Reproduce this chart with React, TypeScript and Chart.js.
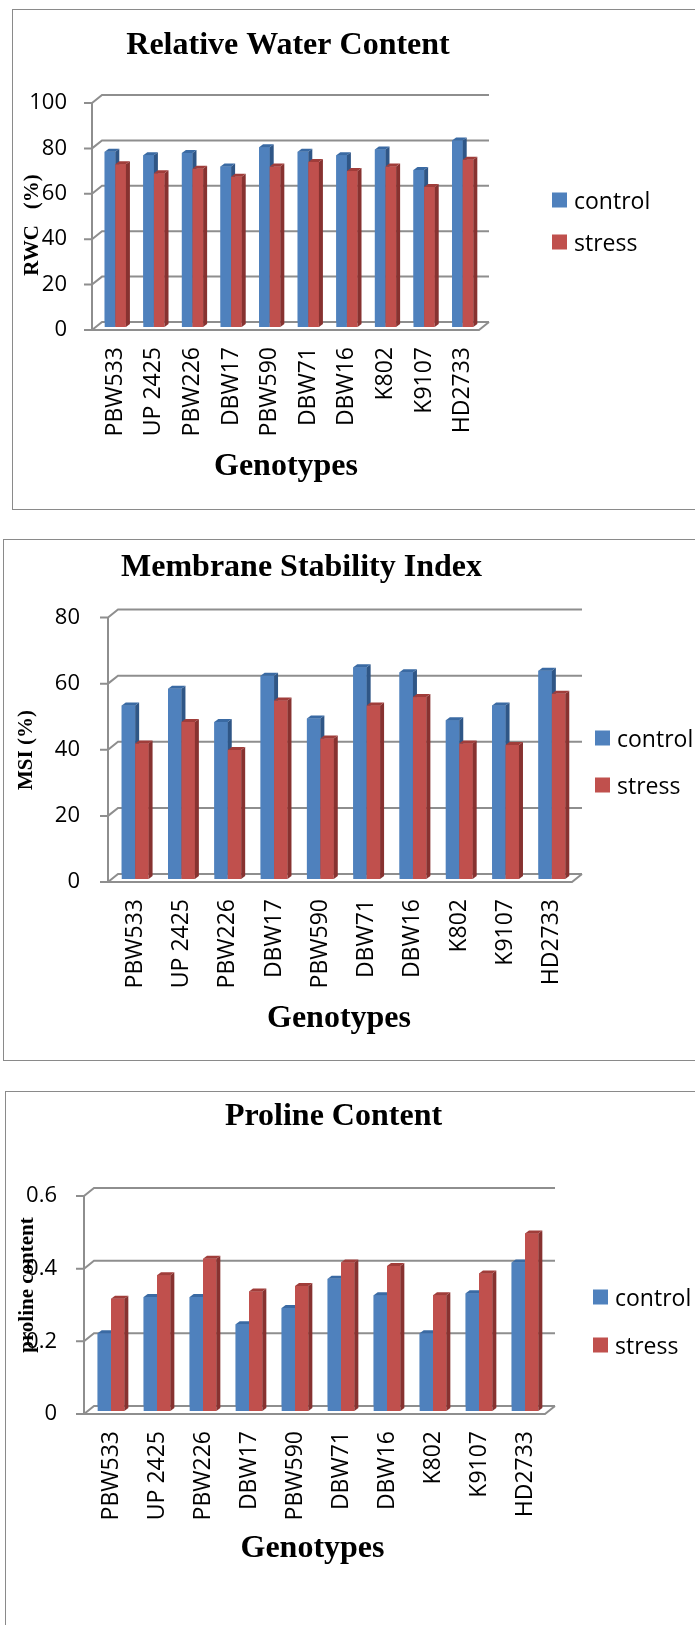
import React, { useEffect, useRef } from "react";
import { Chart, registerables } from "chart.js";

Chart.register(...registerables);

// ---------- data ----------
const GENOTYPES = ["PBW533", "UP 2425", "PBW226", "DBW17", "PBW590", "DBW71", "DBW16", "K802", "K9107", "HD2733"];
const SERIES_LABELS = ["control", "stress"];

const RWC_CONTROL = [75, 73.5, 74.5, 68.5, 77, 75, 73.5, 76, 67, 80];
const RWC_STRESS = [69.5, 65.5, 67.5, 64, 68.5, 70.5, 66.5, 68.5, 59.5, 71.5];
const RWC_TICKS = [0, 20, 40, 60, 80, 100];
const RWC_TICK_LABELS = ["0", "20", "40", "60", "80", "100"];

const MSI_CONTROL = [51, 56, 46, 60, 47, 62.5, 61, 46.5, 51, 61.5];
const MSI_STRESS = [39.5, 46, 37.5, 52.5, 41, 51, 53.5, 39.5, 39, 54.5];
const MSI_TICKS = [0, 20, 40, 60, 80];
const MSI_TICK_LABELS = ["0", "20", "40", "60", "80"];

const PRO_CONTROL = [0.2, 0.3, 0.3, 0.225, 0.27, 0.35, 0.305, 0.2, 0.31, 0.395];
const PRO_STRESS = [0.295, 0.36, 0.405, 0.315, 0.33, 0.395, 0.385, 0.305, 0.365, 0.475];
const PRO_TICKS = [0, 0.2, 0.4, 0.6];
const PRO_TICK_LABELS = ["0", "0.2", "0.4", "0.6"];

// ---------- styles ----------
const FONT_SANS = '"Open Sans", "Liberation Sans", sans-serif';
const FONT_SERIF = '"Liberation Serif", "Times New Roman", serif';
const BLUE = "#4F81BD";
const BLUE_SIDE = "#2F5686";
const BLUE_TOP = "#3A6AA3";
const RED = "#C0504D";
const RED_SIDE = "#873230";
const RED_TOP = "#A03D3A";
const GRID = "#8E8E8E";
const X_AXIS_H = 160;

type Pt = [number, number];
interface PanelSpec {
  title: string;
  yTitle: string;
  xTitle: string;
  control: number[];
  stress: number[];
  ticks: number[];
  tickLabels: string[];
  canvasTop: number;
  canvasHeight: number;
  boxLeft: number;
  boxTop: number;
  boxHeight: number;
  area: { left: number; right: number; top: number; bottom: number };
  titleAt: Pt;
  yTitleAt: Pt;
  xTitleAt: Pt;
  legendX: number;
  legendRows: [number, number];
  barFrac: number;
  tickPad: number;
}

const PANELS: PanelSpec[] = [
  {
    title: "Relative Water Content",
    yTitle: "RWC   (%)",
    xTitle: "Genotypes",
    control: RWC_CONTROL,
    stress: RWC_STRESS,
    ticks: RWC_TICKS,
    tickLabels: RWC_TICK_LABELS,
    canvasTop: 0,
    canvasHeight: 530,
    boxLeft: 12,
    boxTop: 9,
    boxHeight: 501,
    area: { left: 96, right: 482, top: 95, bottom: 322 },
    titleAt: [288, 54],
    yTitleAt: [38, 225],
    xTitleAt: [286, 475],
    legendX: 552,
    legendRows: [200, 242],
    barFrac: 0.55,
    tickPad: 29,
  },
  {
    title: "Membrane Stability Index",
    yTitle: "MSI (%)",
    xTitle: "Genotypes",
    control: MSI_CONTROL,
    stress: MSI_STRESS,
    ticks: MSI_TICKS,
    tickLabels: MSI_TICK_LABELS,
    canvasTop: 530,
    canvasHeight: 545,
    boxLeft: 3,
    boxTop: 539,
    boxHeight: 522,
    area: { left: 112, right: 575, top: 609.5, bottom: 874 },
    titleAt: [301.5, 575.5],
    yTitleAt: [32, 750],
    xTitleAt: [339, 1027],
    legendX: 595,
    legendRows: [738, 785],
    barFrac: 0.58,
    tickPad: 32,
  },
  {
    title: "Proline Content",
    yTitle: "proline content",
    xTitle: "Genotypes",
    control: PRO_CONTROL,
    stress: PRO_STRESS,
    ticks: PRO_TICKS,
    tickLabels: PRO_TICK_LABELS,
    canvasTop: 1075,
    canvasHeight: 550,
    boxLeft: 5,
    boxTop: 1091,
    boxHeight: 700,
    area: { left: 88, right: 548, top: 1188, bottom: 1406 },
    titleAt: [333.5, 1125],
    yTitleAt: [33, 1285],
    xTitleAt: [312.5, 1557],
    legendX: 593,
    legendRows: [1297, 1345],
    barFrac: 0.58,
    tickPad: 31,
  },
];

function poly(ctx: CanvasRenderingContext2D, pts: number[][]) {
  ctx.beginPath();
  ctx.moveTo(pts[0][0], pts[0][1]);
  for (let i = 1; i < pts.length; i++) ctx.lineTo(pts[i][0], pts[i][1]);
  ctx.closePath();
  ctx.fill();
}

function threeDPlugin(spec: PanelSpec) {
  const dx = 10;
  const dy = 8;
  const sd = 4;
  const th = 3;
  const ext = 5;
  const off = spec.canvasTop;
  return {
    id: "threeD",
    beforeDatasetsDraw(chart: any) {
      const { ctx, chartArea: a, scales } = chart;
      const ys = scales.y;
      const xf = a.left - 4;
      ctx.save();
      ctx.strokeStyle = GRID;
      ctx.lineWidth = 2;
      ctx.beginPath();
      ys.ticks.forEach((t: any) => {
        const yb = ys.getPixelForValue(t.value);
        ctx.moveTo(xf - 8, yb + dy);
        ctx.lineTo(xf, yb + dy);
        ctx.lineTo(xf + dx, yb);
        ctx.lineTo(a.right + 7, yb);
      });
      const yTop = ys.getPixelForValue(ys.max);
      ctx.moveTo(xf, yTop + dy);
      ctx.lineTo(xf, a.bottom + dy);
      ctx.lineTo(a.right - 3, a.bottom + dy);
      ctx.lineTo(a.right + 7, a.bottom);
      ctx.stroke();
      ctx.restore();
    },
    afterDatasetsDraw(chart: any) {
      const { ctx } = chart;
      const styles = [
        [BLUE, BLUE_SIDE, BLUE_TOP],
        [RED, RED_SIDE, RED_TOP],
      ];
      const n = chart.data.labels.length;
      ctx.save();
      for (let i = 0; i < n; i++) {
        for (let d = 0; d < 2; d++) {
          const el = chart.getDatasetMeta(d).data[i];
          const { x, y, base, width } = el.getProps(["x", "y", "base", "width"], true);
          const x1 = x - width / 2;
          const x2 = x + width / 2;
          const bot = base + ext;
          const [front, side, top] = styles[d];
          ctx.fillStyle = front;
          ctx.fillRect(x1, y, width, bot - y);
          ctx.fillStyle = side;
          poly(ctx, [[x2, y], [x2 + sd, y - th], [x2 + sd, bot - th], [x2, bot]]);
          ctx.fillStyle = top;
          poly(ctx, [[x1, y], [x1 + sd, y - th], [x2 + sd, y - th], [x2, y]]);
        }
      }
      ctx.restore();
    },
    afterDraw(chart: any) {
      const { ctx } = chart;
      ctx.save();
      ctx.fillStyle = "#000";
      ctx.textAlign = "center";
      ctx.textBaseline = "alphabetic";
      ctx.font = `bold 32px ${FONT_SERIF}`;
      ctx.fillText(spec.title, spec.titleAt[0], spec.titleAt[1] - off);
      ctx.fillText(spec.xTitle, spec.xTitleAt[0], spec.xTitleAt[1] - off);
      ctx.save();
      ctx.translate(spec.yTitleAt[0], spec.yTitleAt[1] - off);
      ctx.rotate(-Math.PI / 2);
      ctx.font = `bold 21px ${FONT_SERIF}`;
      ctx.fillText(spec.yTitle, 0, 0);
      ctx.restore();
      ctx.textAlign = "left";
      ctx.font = `23px ${FONT_SANS}`;
      chart.data.datasets.forEach((ds: any, k: number) => {
        const cy = spec.legendRows[k] - off;
        ctx.fillStyle = ds.backgroundColor;
        ctx.fillRect(spec.legendX, cy - 7.5, 15, 15);
        ctx.fillStyle = "#000";
        ctx.fillText(ds.label, spec.legendX + 22, cy + 8.5);
      });
      ctx.restore();
    },
  };
}

function Panel({ spec }: { spec: PanelSpec }) {
  const ref = useRef<HTMLCanvasElement | null>(null);
  useEffect(() => {
    if (!ref.current) return;
    const T = spec.canvasTop;
    const H = spec.canvasHeight;
    const a = spec.area;
    const chart = new Chart(ref.current, {
      type: "bar",
      data: {
        labels: GENOTYPES,
        datasets: [
          {
            label: SERIES_LABELS[0],
            data: spec.control,
            backgroundColor: BLUE,
            borderWidth: 0,
            categoryPercentage: spec.barFrac,
            barPercentage: 1,
          },
          {
            label: SERIES_LABELS[1],
            data: spec.stress,
            backgroundColor: RED,
            borderWidth: 0,
            categoryPercentage: spec.barFrac,
            barPercentage: 1,
          },
        ],
      },
      options: {
        responsive: false,
        animation: false,
        devicePixelRatio: 1,
        events: [],
        layout: {
          padding: {
            left: 0,
            top: a.top - T,
            right: 695 - a.right,
            bottom: H - (a.bottom - T) - X_AXIS_H,
          },
        },
        plugins: {
          legend: { display: false },
          title: { display: false },
          tooltip: { enabled: false },
        },
        scales: {
          x: {
            type: "category",
            offset: true,
            grid: { display: false, drawTicks: false },
            border: { display: false },
            ticks: {
              autoSkip: false,
              minRotation: 90,
              maxRotation: 90,
              padding: 25,
              color: "#000",
              font: { family: FONT_SANS, size: 23 },
            },
            afterFit: (s: any) => {
              s.height = X_AXIS_H;
            },
          },
          y: {
            type: "linear",
            min: spec.ticks[0],
            max: spec.ticks[spec.ticks.length - 1],
            grid: { display: false, drawTicks: false },
            border: { display: false },
            afterBuildTicks: (s: any) => {
              s.ticks = spec.ticks.map((v) => ({ value: v }));
            },
            ticks: {
              padding: spec.tickPad,
              labelOffset: 8,
              color: "#000",
              font: { family: FONT_SANS, size: 22 },
              callback: (_v: any, i: number) => spec.tickLabels[i],
            },
            afterFit: (s: any) => {
              s.width = a.left;
            },
          },
        },
      } as any,
      plugins: [threeDPlugin(spec)],
    });
    return () => chart.destroy();
  }, [spec]);

  return (
    <>
      <div
        style={{
          position: "absolute",
          left: spec.boxLeft,
          top: spec.boxTop,
          width: 720 - spec.boxLeft,
          height: spec.boxHeight,
          border: "1.5px solid #8a8a8a",
          boxSizing: "border-box",
        }}
      />
      <canvas
        ref={ref}
        width={695}
        height={spec.canvasHeight}
        style={{
          position: "absolute",
          left: 0,
          top: spec.canvasTop,
          width: 695,
          height: spec.canvasHeight,
        }}
      />
    </>
  );
}

export default function App() {
  return (
    <div
      style={{
        position: "absolute",
        left: 0,
        top: 0,
        width: 695,
        height: 1625,
        overflow: "hidden",
        background: "#fff",
      }}
    >
      {PANELS.map((p) => (
        <Panel key={p.title} spec={p} />
      ))}
    </div>
  );
}
